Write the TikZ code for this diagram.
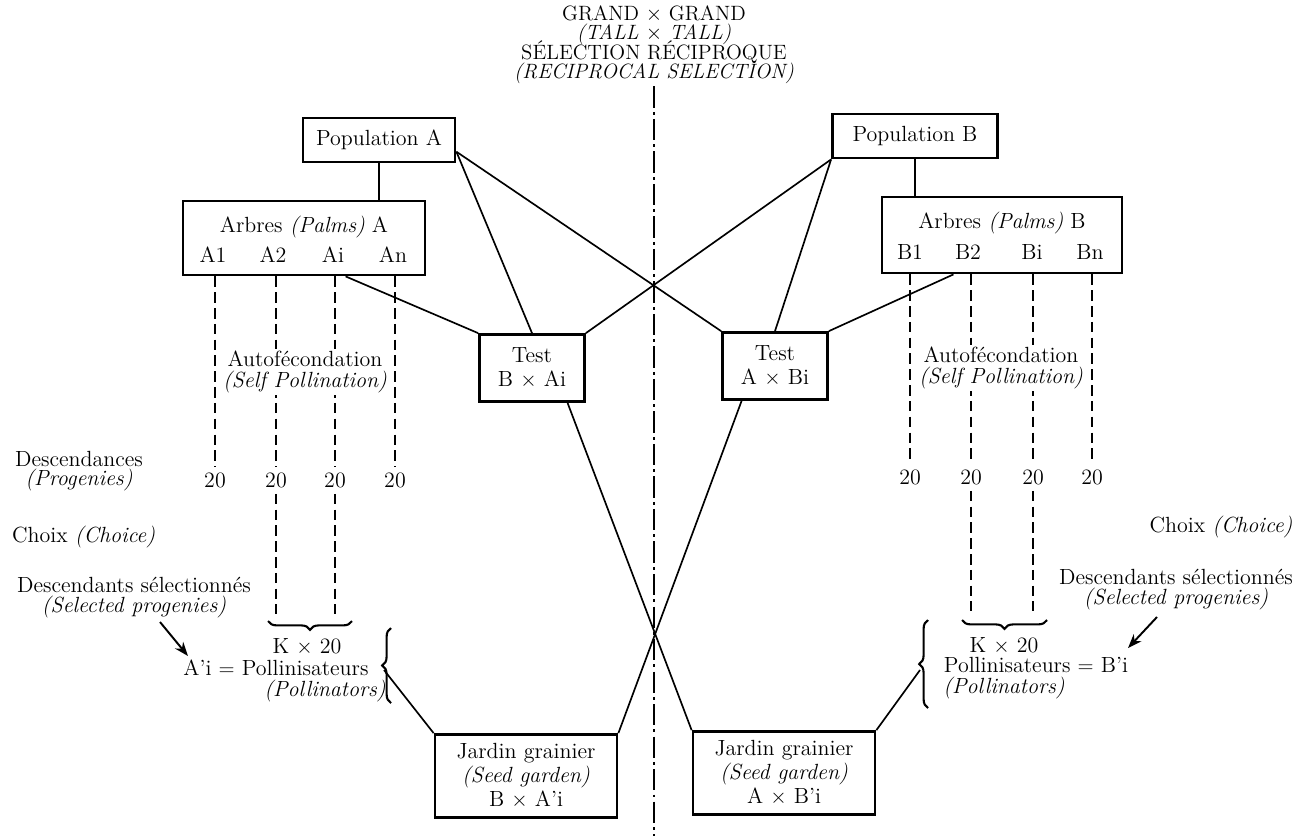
\documentclass[tikz,border=0pt]{standalone}
\usepackage{fontspec}
\usetikzlibrary{arrows.meta,decorations.pathreplacing,calc}
\lineskiplimit=-20pt

\begin{document}
\begin{tikzpicture}[x=0.02cm, y=-0.02cm,
    font=\fontsize{12.5}{14}\selectfont,
    pbox/.style={draw, line width=1.6pt, fill=white, align=center, inner sep=2pt},
    link/.style={line width=0.95pt},
    selfing/.style={line width=1.5pt, dash pattern=on 6pt off 3pt},
    midline/.style={line width=1pt, dash pattern=on 12pt off 2.5pt on 1.5pt off 2.5pt},
    curly/.style={decorate, decoration={brace, amplitude=5pt}, line width=1.2pt},
    pick/.style={line width=1.1pt, -{Stealth[length=8pt, width=6pt]}},
    txt/.style={fill=white, inner xsep=0.5pt, inner ysep=1pt, align=center}]
\useasboundingbox (0,0) rectangle (1311,836);

% titre
\node[align=center, anchor=north, inner sep=1.5pt, font=\fontsize{11.8}{10.9}\selectfont] (title) at (654,3)
    {GRAND $\times$ GRAND\\ \textit{(TALL $\times$ TALL)}\\ SÉLECTION RÉCIPROQUE\\ \textit{(RECIPROCAL SELECTION)}};

% axe central
\coordinate (axbot) at (654,836);
\draw[midline] (title.south -| axbot) -- (axbot);

% populations et arbres
\node[pbox, minimum width=3.04cm, minimum height=0.88cm] (popA) at (379,140) {Population A};
\node[pbox, minimum width=3.3cm, minimum height=0.88cm] (popB) at (915,136) {Population B};
\node[pbox, minimum width=4.84cm, minimum height=1.48cm] (treesA) at (304,238) {};
\node (treesAt) at (304,227) {Arbres \textit{(Palms)} A};
\node[pbox, minimum width=4.8cm, minimum height=1.52cm] (treesB) at (1002,235) {};
\node (treesBt) at (1002,223) {Arbres \textit{(Palms)} B};
\draw[link] (popA.south) -- (popA.south |- treesA.north);
\draw[link] (popB.south) -- (popB.south |- treesB.north);

% tests
\node[pbox, minimum width=2.1cm, minimum height=1.34cm, font=\fontsize{12.5}{13.5}\selectfont] (testBA) at (532,368) {Test\\B $\times$ Ai};
\node[pbox, minimum width=2.1cm, minimum height=1.34cm, font=\fontsize{12.5}{13.5}\selectfont] (testAB) at (775,366) {Test\\A $\times$ Bi};

% jardins grainiers
\node[pbox, minimum width=3.64cm, minimum height=1.66cm, font=\fontsize{12.5}{13.6}\selectfont] (gardenBA) at (526,776)
    {Jardin grainier\\\textit{(Seed garden)}\\B $\times$ A'i};
\node[pbox, minimum width=3.64cm, minimum height=1.66cm, font=\fontsize{12.5}{13.6}\selectfont] (gardenAB) at (784,773)
    {Jardin grainier\\\textit{(Seed garden)}\\A $\times$ B'i};

% croisements
\coordinate (popAout) at ($(popA.east)!0.5!(popA.south east)$);
\coordinate (popBout) at (popB.south west);
\draw[link] (popAout) -- (testAB.north west);
\draw[link] (popAout) -- (testBA.north);
\draw[link] (popBout) -- (testBA.north east);
\draw[link] (popBout) -- (testAB.north);
\draw[link] ($(treesA.south west)!0.67!(treesA.south east)$) -- (testBA.north west);
\draw[link] ($(treesB.south west)!0.3!(treesB.south east)$) -- (testAB.north east);
\draw[link] ($(testBA.south west)!0.83!(testBA.south east)$) -- (gardenAB.north west);
\draw[link] ($(testAB.south west)!0.19!(testAB.south east)$) -- (gardenBA.north east);

% autofecondation (gauche)
\coordinate (endA) at (0,614);
\foreach \n/\xa/\xd in {1/213/215, 2/273/276, i/333/335, n/393/395} {
    \node (a\n) at (\xa,255) {A\n};
    \node (da\n) at (\xd,480) {20};
    \draw[selfing] (da\n |- treesA.south) -- (da\n.north);
}
\foreach \n in {2, i} {
    \draw[selfing] (da\n.south) -- (da\n.south |- endA);
}
\node[txt, font=\fontsize{12.5}{11.8}\selectfont] (selfA) at (305,372) {Autofécondation\\\textit{(Self Pollination)}};

% autofecondation (droite)
\coordinate (endB) at (0,611);
\foreach \n/\xa/\xd in {1/910/910, 2/968/971, i/1032/1033, n/1090/1092} {
    \node (b\n) at (\xa,252) {B\n};
    \node (db\n) at (\xd,477) {20};
    \draw[selfing] (db\n |- treesB.south) -- (db\n.north);
}
\foreach \n in {2, i} {
    \draw[selfing] (db\n.south) -- (db\n.south |- endB);
}
\node[txt, font=\fontsize{12.5}{11.8}\selectfont] (selfB) at (1001,368) {Autofécondation\\\textit{(Self Pollination)}};

% legendes
\node[align=center, font=\fontsize{12.5}{11}\selectfont] (descA) at (79,471) {Descendances\\\textit{(Progenies)}};
\node[anchor=west] (choiceA) at (6,537) {Choix \textit{(Choice)}};
\node[align=center, font=\fontsize{12.5}{11.3}\selectfont] (selA) at (134,598) {Descendants sélectionnés\\\textit{(Selected progenies)}};
\node (choiceB) at (1221,527) {Choix \textit{(Choice)}};
\node[align=center, font=\fontsize{12.5}{11.3}\selectfont] (selB) at (1176,590) {Descendants sélectionnés\\\textit{(Selected progenies)}};

% pollinisateurs
\node (kA) at (307,647) {K $\times$ 20};
\node (polA) at (276,668) {A'i $=$ Pollinisateurs};
\node (polAen) at (325,691) {\textit{(Pollinators)}};
\node (kB) at (1004,646) {K $\times$ 20};
\node (polB) at (1036,665) {Pollinisateurs $=$ B'i};
\node (polBen) at (1004,688) {\textit{(Pollinators)}};

% accolades
\coordinate (hbA1) at (352,621);
\coordinate (hbA2) at (268,621);
\coordinate (hbB1) at (1047,620);
\coordinate (hbB2) at (962,620);
\draw[curly] (hbA1) -- (hbA2);
\draw[curly] (hbB1) -- (hbB2);
\coordinate (vbA1) at (391,703);
\coordinate (vbA2) at (391,628);
\coordinate (vbB1) at (928,708);
\coordinate (vbB2) at (928,620);
\draw[curly] (vbA1) -- (vbA2);
\draw[curly] (vbB1) -- (vbB2);
\coordinate (tipA) at (384,670);
\coordinate (tipB) at (920,670);
\draw[link] (tipA) -- (gardenBA.north west);
\draw[link] (tipB) -- (gardenAB.north east);

% fleches
\coordinate (selAfoot) at (160,622);
\coordinate (selAhead) at (188,656);
\coordinate (selBfoot) at (1157,617);
\coordinate (selBhead) at (1128,648);
\draw[pick] (selAfoot) -- (selAhead);
\draw[pick] (selBfoot) -- (selBhead);
\end{tikzpicture}
\end{document}
